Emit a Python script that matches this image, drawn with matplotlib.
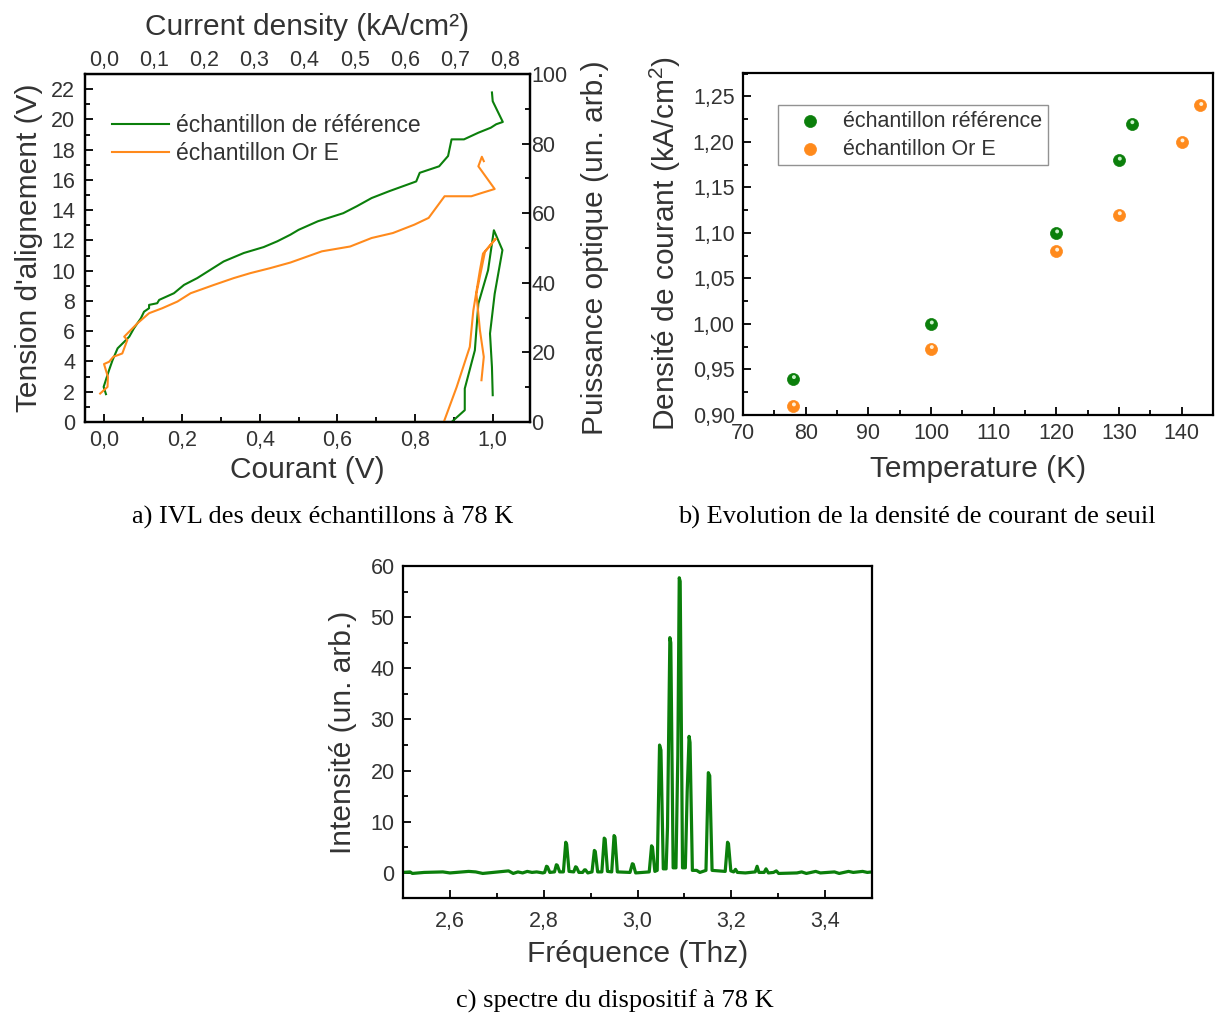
import numpy as np
import matplotlib
matplotlib.use("Agg")
import matplotlib.pyplot as plt
from matplotlib.ticker import MultipleLocator, FuncFormatter
from matplotlib.transforms import offset_copy

plt.rcParams['font.family'] = ['Liberation Sans', 'DejaVu Sans']
plt.rcParams['mathtext.fontset'] = 'custom'
plt.rcParams['mathtext.rm'] = 'Liberation Sans'

GREEN = '#0b7f0b'
ORANGE = '#ff8a1c'
TXT = '#333333'
LAB = 21.5   # taille des titres d'axes
TCK = 15.5   # taille des graduations

# --- a) IVL curves (courant en V, tension en V, puissance en un. arb.)
iv_ref_i = [0.004, -0.002, 0.012, 0.021, 0.034, 0.051, 0.064, 0.076, 0.094, 0.102,
            0.115, 0.115, 0.136, 0.141, 0.179, 0.205, 0.239, 0.273, 0.307, 0.359,
            0.41, 0.445, 0.479, 0.5, 0.55, 0.615, 0.65, 0.688, 0.734, 0.803,
            0.812, 0.862, 0.885, 0.894, 0.926, 0.963, 0.995, 1.009, 1.026, 1.0, 0.998]
iv_ref_v = [1.84, 2.32, 3.43, 4.09, 4.87, 5.3, 5.64, 6.19, 6.86, 7.29,
            7.52, 7.74, 7.85, 8.07, 8.51, 9.06, 9.51, 10.06, 10.61, 11.17,
            11.56, 11.94, 12.38, 12.7, 13.27, 13.8, 14.26, 14.8, 15.26, 15.9,
            16.47, 16.9, 17.58, 18.68, 18.68, 19.12, 19.45, 19.68, 19.83, 21.2, 21.78]

iv_or_i = [-0.011, 0.008, 0.009, -0.001, 0.012, 0.023, 0.046, 0.059, 0.051, 0.085,
           0.115, 0.149, 0.188, 0.222, 0.282, 0.333, 0.376, 0.427, 0.479, 0.56,
           0.633, 0.688, 0.743, 0.798, 0.835, 0.876, 0.89, 0.945, 0.972, 1.005,
           0.963, 0.972, 0.977]
iv_or_v = [1.88, 2.32, 2.98, 3.83, 3.98, 4.31, 4.53, 5.42, 5.64, 6.52,
           7.19, 7.52, 7.96, 8.51, 9.06, 9.51, 9.84, 10.17, 10.54, 11.28,
           11.6, 12.16, 12.49, 13.04, 13.49, 14.92, 14.92, 14.92, 15.14, 15.4,
           16.9, 17.53, 17.24]

pw_ref_i = [0.0, 0.894, 0.928, 0.928, 0.954, 0.963, 0.988, 1.003, 1.025, 1.005,
            0.993, 0.998, 1.0]
pw_ref_p = [0, 0, 3.4, 9.6, 20.6, 34, 43.6, 55.1, 49.4, 36.8,
            25.4, 15.8, 7.7]

pw_or_i = [0.0, 0.874, 0.907, 0.941, 0.95, 0.967, 0.975, 1.008, 0.98, 0.958,
           0.967, 0.977, 0.971]
pw_or_p = [0, 0, 10, 21.6, 32, 43.6, 48.4, 52.7, 48.9, 36.9,
           26.4, 18.7, 12]

# --- b) densite de courant de seuil vs temperature
t_ref = [78, 100, 120, 130, 132]
j_ref = [0.94, 1.00, 1.10, 1.18, 1.22]
t_or = [78, 100, 120, 130, 140, 143]
j_or = [0.91, 0.973, 1.08, 1.12, 1.20, 1.24]

# --- c) spectre a 78 K
freq = [2.500, 2.515, 2.520, 2.545, 2.585, 2.600, 2.640, 2.655, 2.670, 2.725,
        2.735, 2.745, 2.755, 2.765, 2.775, 2.785, 2.798,
        2.802, 2.806, 2.808, 2.813,
        2.823, 2.827, 2.829, 2.834,
        2.842, 2.847, 2.849, 2.854,
        2.864, 2.868, 2.870, 2.875,
        2.883, 2.887, 2.889, 2.894,
        2.903, 2.908, 2.910, 2.915,
        2.924, 2.929, 2.931, 2.936,
        2.945, 2.950, 2.952, 2.957,
        2.984, 2.989, 2.991, 2.996,
        3.025, 3.030, 3.032, 3.037,
        3.042, 3.047, 3.050, 3.055,
        3.061, 3.064, 3.069, 3.071, 3.076,
        3.082, 3.086, 3.089, 3.091, 3.096,
        3.102, 3.106, 3.110, 3.112, 3.117,
        3.126, 3.133,
        3.146, 3.151, 3.154, 3.159,
        3.187, 3.192, 3.194, 3.199,
        3.205, 3.209, 3.213,
        3.230, 3.251, 3.255, 3.259,
        3.270, 3.274, 3.279,
        3.290, 3.296, 3.301,
        3.340, 3.350, 3.360, 3.380, 3.390, 3.420, 3.430, 3.450, 3.460, 3.480,
        3.490, 3.500]
intens = [0.1, 0.2, -0.1, 0.1, 0.2, 0.0, 0.3, 0.2, -0.1, 0.4,
          -0.1, 0.2, 0.0, 0.3, 0.1, 0.2, 0.0,
          0.1, 1.3, 1.2, 0.1,
          0.2, 1.6, 1.5, 0.2,
          0.2, 6.0, 5.6, 0.3,
          0.2, 1.2, 1.1, 0.1,
          0.1, 0.6, 0.6, 0.0,
          0.2, 4.4, 4.2, 0.2,
          0.2, 6.8, 6.6, 0.3,
          0.2, 7.3, 7.0, 0.2,
          0.1, 1.8, 1.7, 0.0,
          0.2, 5.3, 5.0, 0.3,
          0.5, 25.0, 24.0, 0.8,
          0.8, 9.0, 46.0, 45.0, 1.0,
          1.0, 23.0, 57.7, 57.0, 1.0,
          1.0, 16.0, 26.7, 25.5, 0.5,
          0.5, 0.1,
          0.5, 19.6, 19.0, 0.5,
          0.3, 6.0, 5.7, 0.4,
          0.2, 0.7, 0.1,
          0.0, 0.2, 1.3, 0.1,
          0.1, 0.8, 0.0,
          0.1, 0.4, -0.1,
          0.0, 0.2, -0.1, 0.3, 0.0, 0.2, -0.1, 0.3, 0.1, 0.3,
          0.1, 0.2]

W, H = 1215, 1019


def rect(left, top, right, bottom):
    return [left / W, 1 - bottom / H, (right - left) / W, (bottom - top) / H]


def comma(fmt):
    return FuncFormatter(lambda v, p: format(v, fmt).replace('.', ','))


def style(ax, fs=TCK):
    ax.tick_params(which='both', direction='in', colors='black', labelcolor=TXT,
                   labelsize=fs, width=1.3, pad=6)
    ax.tick_params(which='major', length=6)
    ax.tick_params(which='minor', length=3.5)
    for s in ax.spines.values():
        s.set_linewidth(1.6)


def panel_a(fig):
    ax = fig.add_axes(rect(85, 74, 530, 422))
    ax.plot(iv_ref_i, iv_ref_v, color=GREEN, lw=1.5, label='échantillon de référence')
    ax.plot(iv_or_i, iv_or_v, color=ORANGE, lw=1.5, label='échantillon Or E')
    ax.set_xlim(-0.05, 1.096)
    ax.set_ylim(0, 23)
    ax.xaxis.set_major_locator(MultipleLocator(0.2))
    ax.xaxis.set_minor_locator(MultipleLocator(0.1))
    ax.yaxis.set_major_locator(MultipleLocator(2))
    ax.yaxis.set_minor_locator(MultipleLocator(1))
    ax.xaxis.set_major_formatter(comma('.1f'))
    style(ax)
    ax.tick_params(axis='y', pad=7)
    ax.set_xlabel('Courant (V)', fontsize=LAB, color=TXT, labelpad=3)
    ax.set_ylabel("Tension d'alignement (V)", fontsize=LAB, color=TXT, labelpad=6)

    ax2 = ax.twinx()
    ax2.plot(pw_ref_i, pw_ref_p, color=GREEN, lw=1.5)
    ax2.plot(pw_or_i, pw_or_p, color=ORANGE, lw=1.5)
    ax2.set_ylim(0, 100)
    ax2.yaxis.set_major_locator(MultipleLocator(20))
    ax2.yaxis.set_minor_locator(MultipleLocator(10))
    style(ax2)
    ax2.tick_params(axis='y', pad=1)
    ax2.set_ylabel('Puissance optique (un. arb.)', fontsize=LAB, color=TXT, labelpad=10)

    top = ax.secondary_xaxis('top', functions=(lambda v: v * 0.776, lambda j: j / 0.776))
    top.xaxis.set_major_locator(MultipleLocator(0.1))
    top.xaxis.set_major_formatter(comma('.1f'))
    top.tick_params(direction='in', labelcolor=TXT, labelsize=TCK, length=0, pad=2)
    top.set_xlabel('Current density (kA/cm²)', fontsize=LAB, color=TXT, labelpad=11)

    ax.legend(loc='upper left', bbox_to_anchor=(0.061, 0.885), frameon=False,
              fontsize=16.5, handlelength=2.5, handletextpad=0.3, labelspacing=0.2,
              borderpad=0, borderaxespad=0, labelcolor=TXT)


def balls(ax, x, y, color, light):
    main = ax.scatter(x, y, s=75, color=color, edgecolors=color, linewidths=0.5, zorder=3)
    tr = offset_copy(ax.transData, fig=ax.figure, x=0.8, y=1.5, units='dots')
    hi = ax.scatter(x, y, s=8, color=light, edgecolors='none', zorder=4, transform=tr)
    return main, hi


def panel_b(fig):
    ax = fig.add_axes(rect(743, 73, 1213, 415))
    g = balls(ax, t_ref, j_ref, GREEN, '#c8f0c8')
    o = balls(ax, t_or, j_or, ORANGE, '#fff0d8')
    ax.set_xlim(70, 145)
    ax.set_ylim(0.90, 1.2757)
    ax.xaxis.set_major_locator(MultipleLocator(10))
    ax.xaxis.set_minor_locator(MultipleLocator(5))
    ax.yaxis.set_major_locator(MultipleLocator(0.05))
    ax.yaxis.set_minor_locator(MultipleLocator(0.025))
    ax.yaxis.set_major_formatter(comma('.2f'))
    style(ax)
    ax.set_xlabel('Temperature (K)', fontsize=LAB, color=TXT, labelpad=8)
    ax.set_ylabel(r'Densité de courant (kA/cm$^{2}$)', fontsize=LAB, color=TXT, labelpad=7)
    leg = ax.legend([g[0], o[0]], ['échantillon référence', 'échantillon Or E'],
                    loc='upper left', bbox_to_anchor=(0.074, 0.905), fontsize=15.5,
                    frameon=True, fancybox=False, edgecolor='#777777',
                    handlelength=2.5, handletextpad=0.3, borderpad=0.25,
                    labelspacing=0.33, borderaxespad=0, labelcolor=TXT)
    leg.get_frame().set_linewidth(1.0)


def panel_c(fig):
    ax = fig.add_axes(rect(403, 566, 872, 898))
    ax.plot(freq, intens, color=GREEN, lw=2.3)
    ax.set_xlim(2.5, 3.5)
    ax.set_ylim(-4.9, 60)
    ax.xaxis.set_major_locator(MultipleLocator(0.2))
    ax.xaxis.set_minor_locator(MultipleLocator(0.1))
    ax.yaxis.set_major_locator(MultipleLocator(10))
    ax.yaxis.set_minor_locator(MultipleLocator(5))
    ax.xaxis.set_major_formatter(comma('.1f'))
    ax.set_xticks([2.6, 2.8, 3.0, 3.2, 3.4])
    style(ax)
    ax.tick_params(axis='x', pad=9)
    ax.set_xlabel('Fréquence (Thz)', fontsize=LAB, color=TXT, labelpad=6)
    ax.set_ylabel('Intensité (un. arb.)', fontsize=LAB, color=TXT, labelpad=10)


def main():
    fig = plt.figure(figsize=(W / 100, H / 100), dpi=100)
    panel_a(fig)
    panel_b(fig)
    panel_c(fig)

    cap = dict(fontsize=19, family=['Liberation Serif', 'DejaVu Serif'], color='black',
               ha='center', va='center')
    fig.text(323 / W, 1 - 517 / H, 'a) IVL des deux échantillons à 78 K', **cap)
    fig.text(917 / W, 1 - 517 / H, 'b) Evolution de la densité de courant de seuil', **cap)
    fig.text(615 / W, 1 - 1001 / H, 'c) spectre du dispositif à 78 K', **cap)

    fig.savefig('out.png', dpi=100)


if __name__ == "__main__":
    main()
